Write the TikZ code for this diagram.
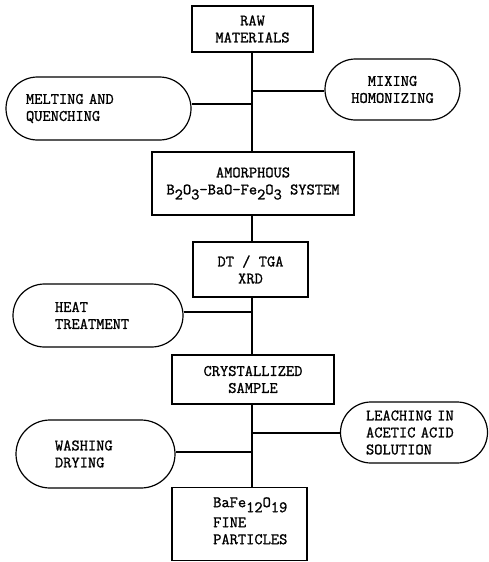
\documentclass[tikz,border=0pt]{standalone}
\usepackage{fontspec}
\newfontfamily\tyf{Latin Modern Mono}[FakeBold=1.2]
\usetikzlibrary{shapes.misc}
\newcommand\lowr[1]{\raisebox{-5pt}{#1}}
\begin{document}
\begin{tikzpicture}[x=1pt,y=-1pt,
  every node/.style={font=\tyf\fontsize{16}{17}\selectfont, inner sep=0pt},
  boxn/.style={draw, line width=1.2pt, rectangle},
  pill/.style={draw, line width=1.2pt, rounded rectangle},
  conn/.style={line width=1.2pt}]
\useasboundingbox (0,0) rectangle (489,562);
\coordinate (t) at (252,0);
% boxes
\node[boxn, minimum width=121pt, minimum height=46pt, align=center] (raw) at (252.5,29) {RAW\\MATERIALS};
\node[boxn, minimum width=202pt, minimum height=63pt, align=center] (amorph) at (253,183.5) {AMORPHOUS\\B\lowr{2}O\lowr{3}-BaO-Fe\lowr{2}O\lowr{3} SYSTEM};
\node[boxn, minimum width=115pt, minimum height=55pt, align=center] (dt) at (250.5,269.5) {DT / TGA\\XRD};
\node[boxn, minimum width=162pt, minimum height=49pt, align=center] (cryst) at (253,379.5) {CRYSTALLIZED\\SAMPLE};
\node[boxn, minimum width=135pt, minimum height=73pt] (fine) at (239.5,524) {};
\node[anchor=north west, align=left] (finet) at (213,497) {BaFe\lowr{12}O\lowr{19}\\[3pt]FINE\\PARTICLES};
% pills
\node[pill, minimum width=135pt, minimum height=61pt, align=center] (mix) at (392.5,89.5) {MIXING\\HOMONIZING};
\node[pill, minimum width=185pt, minimum height=63pt, align=left, text width=145pt] (melt) at (98.5,108.5) {MELTING AND\\QUENCHING};
\node[pill, minimum width=170pt, minimum height=63pt, align=left, text width=86pt] (heat) at (98,315.5) {HEAT\\TREATMENT};
\node[pill, minimum width=147pt, minimum height=61pt, align=left, text width=96pt] (leach) at (414,432.5) {LEACHING IN\\ACETIC ACID\\SOLUTION};
\node[pill, minimum width=159pt, minimum height=68pt, align=left, text width=81pt] (wash) at (95.5,454) {WASHING\\DRYING};
% trunk
\draw[conn] (raw.south -| t) -- (amorph.north -| t);
\draw[conn] (amorph.south -| t) -- (dt.north -| t);
\draw[conn] (dt.south -| t) -- (cryst.north -| t);
\draw[conn] (cryst.south -| t) -- (fine.north -| t);
% branches
\draw[conn] ([yshift=-1.5pt]mix.west) -- ([yshift=-1.5pt]mix.west -| t);
\draw[conn] ([yshift=4.5pt]melt.east) -- ([yshift=4.5pt]melt.east -| t);
\draw[conn] ([yshift=3.5pt]heat.east) -- ([yshift=3.5pt]heat.east -| t);
\draw[conn] ([yshift=-0.5pt]leach.west) -- ([yshift=-0.5pt]leach.west -| t);
\draw[conn] ([yshift=2pt]wash.east) -- ([yshift=2pt]wash.east -| t);
\end{tikzpicture}
\end{document}
